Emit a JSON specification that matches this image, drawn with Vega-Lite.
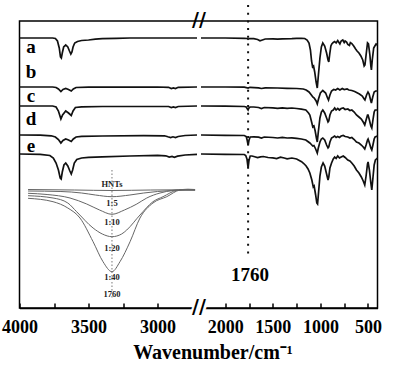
{
  "$schema": "https://vega.github.io/schema/vega-lite/v6.json",
  "autosize": {"type": "none"},
  "padding": {"left": 19.5, "top": 21, "right": 22.5, "bottom": 62},
  "width": 358,
  "height": 287,
  "background": "white",
  "config": {
    "view": {"stroke": "black", "strokeWidth": 1.5},
    "axis": {"grid": false},
    "text": {"font": "Liberation Serif", "fontWeight": "bold", "color": "black"}
  },
  "datasets": {
    "spectra": [
      {"s":"a","p":"L","w":4000,"T":270},{"s":"a","p":"L","w":3850,"T":270},{"s":"a","p":"L","w":3760,"T":270},{"s":"a","p":"L","w":3740,"T":269.5},{"s":"a","p":"L","w":3725,"T":267},{"s":"a","p":"L","w":3712,"T":260},{"s":"a","p":"L","w":3703,"T":251},{"s":"a","p":"L","w":3697,"T":250},{"s":"a","p":"L","w":3690,"T":255},{"s":"a","p":"L","w":3680,"T":261},{"s":"a","p":"L","w":3665,"T":263},{"s":"a","p":"L","w":3650,"T":261},{"s":"a","p":"L","w":3638,"T":257},{"s":"a","p":"L","w":3628,"T":254},{"s":"a","p":"L","w":3620,"T":256},{"s":"a","p":"L","w":3612,"T":261},{"s":"a","p":"L","w":3600,"T":265},{"s":"a","p":"L","w":3580,"T":266.5},{"s":"a","p":"L","w":3550,"T":267.5},{"s":"a","p":"L","w":3500,"T":268},{"s":"a","p":"L","w":3450,"T":268.8},{"s":"a","p":"L","w":3400,"T":269.3},{"s":"a","p":"L","w":3300,"T":269.7},{"s":"a","p":"L","w":3200,"T":270},{"s":"a","p":"L","w":3000,"T":270},{"s":"a","p":"L","w":2714,"T":270},
      {"s":"b","p":"L","w":4000,"T":221},{"s":"b","p":"L","w":3760,"T":221},{"s":"b","p":"L","w":3735,"T":220.5},{"s":"b","p":"L","w":3718,"T":219},{"s":"b","p":"L","w":3700,"T":216.5},{"s":"b","p":"L","w":3685,"T":218.5},{"s":"b","p":"L","w":3665,"T":219.5},{"s":"b","p":"L","w":3645,"T":218.5},{"s":"b","p":"L","w":3625,"T":217},{"s":"b","p":"L","w":3610,"T":219},{"s":"b","p":"L","w":3590,"T":220.5},{"s":"b","p":"L","w":3500,"T":220.8},{"s":"b","p":"L","w":3000,"T":221},{"s":"b","p":"L","w":2920,"T":220.7},{"s":"b","p":"L","w":2900,"T":219.5},{"s":"b","p":"L","w":2885,"T":220},{"s":"b","p":"L","w":2870,"T":219.4},{"s":"b","p":"L","w":2850,"T":220.7},{"s":"b","p":"L","w":2714,"T":221},
      {"s":"c","p":"L","w":4000,"T":202},{"s":"c","p":"L","w":3760,"T":202},{"s":"c","p":"L","w":3735,"T":201},{"s":"c","p":"L","w":3718,"T":197},{"s":"c","p":"L","w":3700,"T":189},{"s":"c","p":"L","w":3688,"T":193},{"s":"c","p":"L","w":3665,"T":197},{"s":"c","p":"L","w":3645,"T":195},{"s":"c","p":"L","w":3625,"T":192.5},{"s":"c","p":"L","w":3612,"T":197},{"s":"c","p":"L","w":3595,"T":200.5},{"s":"c","p":"L","w":3550,"T":201.2},{"s":"c","p":"L","w":3400,"T":201.5},{"s":"c","p":"L","w":3000,"T":201.5},{"s":"c","p":"L","w":2920,"T":201.5},{"s":"c","p":"L","w":2900,"T":200.5},{"s":"c","p":"L","w":2885,"T":201},{"s":"c","p":"L","w":2870,"T":200.4},{"s":"c","p":"L","w":2850,"T":201.5},{"s":"c","p":"L","w":2714,"T":202},
      {"s":"d","p":"L","w":4000,"T":173},{"s":"d","p":"L","w":3850,"T":172.8},{"s":"d","p":"L","w":3770,"T":172.2},{"s":"d","p":"L","w":3740,"T":171},{"s":"d","p":"L","w":3718,"T":168.5},{"s":"d","p":"L","w":3700,"T":165},{"s":"d","p":"L","w":3685,"T":167.5},{"s":"d","p":"L","w":3665,"T":169},{"s":"d","p":"L","w":3645,"T":168},{"s":"d","p":"L","w":3625,"T":166.5},{"s":"d","p":"L","w":3610,"T":169},{"s":"d","p":"L","w":3590,"T":171},{"s":"d","p":"L","w":3550,"T":171.7},{"s":"d","p":"L","w":3400,"T":172},{"s":"d","p":"L","w":3100,"T":172.3},{"s":"d","p":"L","w":2950,"T":172.2},{"s":"d","p":"L","w":2925,"T":171.2},{"s":"d","p":"L","w":2905,"T":170.5},{"s":"d","p":"L","w":2888,"T":171.2},{"s":"d","p":"L","w":2870,"T":170.5},{"s":"d","p":"L","w":2850,"T":171.5},{"s":"d","p":"L","w":2800,"T":172.5},{"s":"d","p":"L","w":2714,"T":173},
      {"s":"e","p":"L","w":4000,"T":154},{"s":"e","p":"L","w":3850,"T":153.7},{"s":"e","p":"L","w":3780,"T":152.5},{"s":"e","p":"L","w":3755,"T":150},{"s":"e","p":"L","w":3735,"T":145},{"s":"e","p":"L","w":3718,"T":138},{"s":"e","p":"L","w":3705,"T":130},{"s":"e","p":"L","w":3698,"T":129},{"s":"e","p":"L","w":3690,"T":136},{"s":"e","p":"L","w":3678,"T":143},{"s":"e","p":"L","w":3665,"T":145},{"s":"e","p":"L","w":3650,"T":142},{"s":"e","p":"L","w":3635,"T":137},{"s":"e","p":"L","w":3625,"T":134},{"s":"e","p":"L","w":3615,"T":138},{"s":"e","p":"L","w":3603,"T":145},{"s":"e","p":"L","w":3585,"T":148.5},{"s":"e","p":"L","w":3550,"T":150},{"s":"e","p":"L","w":3500,"T":150.7},{"s":"e","p":"L","w":3400,"T":151.2},{"s":"e","p":"L","w":3200,"T":152},{"s":"e","p":"L","w":3000,"T":152.7},{"s":"e","p":"L","w":2940,"T":152.2},{"s":"e","p":"L","w":2915,"T":151},{"s":"e","p":"L","w":2895,"T":151.5},{"s":"e","p":"L","w":2878,"T":150.7},{"s":"e","p":"L","w":2855,"T":151.8},{"s":"e","p":"L","w":2800,"T":153},{"s":"e","p":"L","w":2714,"T":153.7},

      {"s":"a","p":"R","w":2255,"T":270},{"s":"a","p":"R","w":2000,"T":270},{"s":"a","p":"R","w":1800,"T":269.7},{"s":"a","p":"R","w":1770,"T":269.5},{"s":"a","p":"R","w":1760,"T":268.7},{"s":"a","p":"R","w":1745,"T":269.4},{"s":"a","p":"R","w":1700,"T":269.3},{"s":"a","p":"R","w":1660,"T":268.5},{"s":"a","p":"R","w":1635,"T":267.2},{"s":"a","p":"R","w":1610,"T":268},{"s":"a","p":"R","w":1580,"T":269},{"s":"a","p":"R","w":1500,"T":269.2},{"s":"a","p":"R","w":1450,"T":268.8},{"s":"a","p":"R","w":1400,"T":269.2},{"s":"a","p":"R","w":1300,"T":269.4},{"s":"a","p":"R","w":1250,"T":269.7},{"s":"a","p":"R","w":1200,"T":269.7},{"s":"a","p":"R","w":1165,"T":269.5},{"s":"a","p":"R","w":1140,"T":268},{"s":"a","p":"R","w":1120,"T":265},{"s":"a","p":"R","w":1105,"T":258},{"s":"a","p":"R","w":1093,"T":247},{"s":"a","p":"R","w":1082,"T":241},{"s":"a","p":"R","w":1072,"T":242},{"s":"a","p":"R","w":1060,"T":236},{"s":"a","p":"R","w":1045,"T":226},{"s":"a","p":"R","w":1033,"T":220},{"s":"a","p":"R","w":1022,"T":232},{"s":"a","p":"R","w":1005,"T":250},{"s":"a","p":"R","w":990,"T":261},{"s":"a","p":"R","w":975,"T":265},{"s":"a","p":"R","w":955,"T":262},{"s":"a","p":"R","w":935,"T":255},{"s":"a","p":"R","w":920,"T":248},{"s":"a","p":"R","w":912,"T":246},{"s":"a","p":"R","w":902,"T":254},{"s":"a","p":"R","w":890,"T":262},{"s":"a","p":"R","w":880,"T":264},{"s":"a","p":"R","w":865,"T":265.5},{"s":"a","p":"R","w":850,"T":266.5},{"s":"a","p":"R","w":835,"T":265},{"s":"a","p":"R","w":818,"T":267.5},{"s":"a","p":"R","w":805,"T":265.5},{"s":"a","p":"R","w":795,"T":264},{"s":"a","p":"R","w":782,"T":267},{"s":"a","p":"R","w":765,"T":268},{"s":"a","p":"R","w":750,"T":265.5},{"s":"a","p":"R","w":740,"T":267},{"s":"a","p":"R","w":725,"T":266},{"s":"a","p":"R","w":712,"T":263.5},{"s":"a","p":"R","w":695,"T":262.5},{"s":"a","p":"R","w":685,"T":265.5},{"s":"a","p":"R","w":670,"T":264.5},{"s":"a","p":"R","w":650,"T":262},{"s":"a","p":"R","w":630,"T":259},{"s":"a","p":"R","w":615,"T":257},{"s":"a","p":"R","w":595,"T":255},{"s":"a","p":"R","w":575,"T":252},{"s":"a","p":"R","w":555,"T":248},{"s":"a","p":"R","w":540,"T":242},{"s":"a","p":"R","w":532,"T":243},{"s":"a","p":"R","w":520,"T":253},{"s":"a","p":"R","w":505,"T":265},{"s":"a","p":"R","w":495,"T":264},{"s":"a","p":"R","w":480,"T":253},{"s":"a","p":"R","w":470,"T":242},{"s":"a","p":"R","w":464,"T":238},{"s":"a","p":"R","w":455,"T":248},{"s":"a","p":"R","w":440,"T":260},{"s":"a","p":"R","w":428,"T":262},{"s":"a","p":"R","w":415,"T":264},{"s":"a","p":"R","w":400,"T":263},

      {"s":"b","p":"R","w":2255,"T":221},{"s":"b","p":"R","w":2000,"T":221},{"s":"b","p":"R","w":1800,"T":220.8},{"s":"b","p":"R","w":1760,"T":220},{"s":"b","p":"R","w":1740,"T":220.7},{"s":"b","p":"R","w":1650,"T":220.2},{"s":"b","p":"R","w":1620,"T":219.5},{"s":"b","p":"R","w":1580,"T":220.2},{"s":"b","p":"R","w":1450,"T":220},{"s":"b","p":"R","w":1350,"T":219.7},{"s":"b","p":"R","w":1250,"T":219.5},{"s":"b","p":"R","w":1180,"T":219},{"s":"b","p":"R","w":1150,"T":218},{"s":"b","p":"R","w":1120,"T":216},{"s":"b","p":"R","w":1095,"T":213},{"s":"b","p":"R","w":1080,"T":211},{"s":"b","p":"R","w":1065,"T":210},{"s":"b","p":"R","w":1045,"T":207},{"s":"b","p":"R","w":1033,"T":204},{"s":"b","p":"R","w":1020,"T":209},{"s":"b","p":"R","w":1000,"T":215},{"s":"b","p":"R","w":975,"T":217.5},{"s":"b","p":"R","w":945,"T":215},{"s":"b","p":"R","w":925,"T":210},{"s":"b","p":"R","w":915,"T":208},{"s":"b","p":"R","w":900,"T":213},{"s":"b","p":"R","w":883,"T":217},{"s":"b","p":"R","w":860,"T":218.5},{"s":"b","p":"R","w":840,"T":218},{"s":"b","p":"R","w":818,"T":219.5},{"s":"b","p":"R","w":795,"T":218},{"s":"b","p":"R","w":770,"T":219.5},{"s":"b","p":"R","w":750,"T":218.5},{"s":"b","p":"R","w":720,"T":219},{"s":"b","p":"R","w":700,"T":218},{"s":"b","p":"R","w":670,"T":217.5},{"s":"b","p":"R","w":640,"T":216.5},{"s":"b","p":"R","w":620,"T":215.5},{"s":"b","p":"R","w":590,"T":214},{"s":"b","p":"R","w":560,"T":212},{"s":"b","p":"R","w":540,"T":209},{"s":"b","p":"R","w":532,"T":208},{"s":"b","p":"R","w":515,"T":213},{"s":"b","p":"R","w":500,"T":216},{"s":"b","p":"R","w":488,"T":214},{"s":"b","p":"R","w":470,"T":207},{"s":"b","p":"R","w":464,"T":205},{"s":"b","p":"R","w":450,"T":211},{"s":"b","p":"R","w":435,"T":216},{"s":"b","p":"R","w":420,"T":217},{"s":"b","p":"R","w":400,"T":217},

      {"s":"c","p":"R","w":2255,"T":202},{"s":"c","p":"R","w":2000,"T":201.8},{"s":"c","p":"R","w":1800,"T":201.5},{"s":"c","p":"R","w":1780,"T":201},{"s":"c","p":"R","w":1767,"T":199},{"s":"c","p":"R","w":1760,"T":198},{"s":"c","p":"R","w":1752,"T":200},{"s":"c","p":"R","w":1740,"T":201},{"s":"c","p":"R","w":1700,"T":201},{"s":"c","p":"R","w":1650,"T":200.5},{"s":"c","p":"R","w":1620,"T":199.5},{"s":"c","p":"R","w":1590,"T":200.5},{"s":"c","p":"R","w":1500,"T":200.2},{"s":"c","p":"R","w":1450,"T":199.7},{"s":"c","p":"R","w":1400,"T":200.2},{"s":"c","p":"R","w":1350,"T":199.7},{"s":"c","p":"R","w":1300,"T":200},{"s":"c","p":"R","w":1250,"T":199.5},{"s":"c","p":"R","w":1200,"T":198.8},{"s":"c","p":"R","w":1153,"T":198},{"s":"c","p":"R","w":1125,"T":195},{"s":"c","p":"R","w":1111,"T":193},{"s":"c","p":"R","w":1095,"T":187},{"s":"c","p":"R","w":1080,"T":181},{"s":"c","p":"R","w":1068,"T":182},{"s":"c","p":"R","w":1055,"T":177},{"s":"c","p":"R","w":1042,"T":170},{"s":"c","p":"R","w":1033,"T":166},{"s":"c","p":"R","w":1022,"T":176},{"s":"c","p":"R","w":1005,"T":190},{"s":"c","p":"R","w":990,"T":196},{"s":"c","p":"R","w":975,"T":198},{"s":"c","p":"R","w":955,"T":195},{"s":"c","p":"R","w":935,"T":190},{"s":"c","p":"R","w":920,"T":186},{"s":"c","p":"R","w":912,"T":187},{"s":"c","p":"R","w":900,"T":193},{"s":"c","p":"R","w":883,"T":197},{"s":"c","p":"R","w":865,"T":198},{"s":"c","p":"R","w":850,"T":200},{"s":"c","p":"R","w":835,"T":198},{"s":"c","p":"R","w":818,"T":199.5},{"s":"c","p":"R","w":800,"T":198},{"s":"c","p":"R","w":782,"T":199.5},{"s":"c","p":"R","w":760,"T":200},{"s":"c","p":"R","w":740,"T":198.5},{"s":"c","p":"R","w":712,"T":199},{"s":"c","p":"R","w":690,"T":197.5},{"s":"c","p":"R","w":670,"T":198},{"s":"c","p":"R","w":645,"T":196},{"s":"c","p":"R","w":621,"T":193},{"s":"c","p":"R","w":595,"T":191},{"s":"c","p":"R","w":570,"T":189},{"s":"c","p":"R","w":550,"T":186},{"s":"c","p":"R","w":534,"T":183},{"s":"c","p":"R","w":520,"T":188},{"s":"c","p":"R","w":505,"T":193},{"s":"c","p":"R","w":499,"T":193},{"s":"c","p":"R","w":485,"T":188},{"s":"c","p":"R","w":470,"T":182},{"s":"c","p":"R","w":460,"T":180},{"s":"c","p":"R","w":448,"T":188},{"s":"c","p":"R","w":435,"T":196},{"s":"c","p":"R","w":425,"T":198},{"s":"c","p":"R","w":400,"T":198},

      {"s":"d","p":"R","w":2255,"T":173},{"s":"d","p":"R","w":2000,"T":172.7},{"s":"d","p":"R","w":1800,"T":172.5},{"s":"d","p":"R","w":1780,"T":171.5},{"s":"d","p":"R","w":1770,"T":168},{"s":"d","p":"R","w":1760,"T":163},{"s":"d","p":"R","w":1750,"T":168},{"s":"d","p":"R","w":1738,"T":171},{"s":"d","p":"R","w":1700,"T":171.2},{"s":"d","p":"R","w":1650,"T":170.8},{"s":"d","p":"R","w":1620,"T":170},{"s":"d","p":"R","w":1590,"T":171},{"s":"d","p":"R","w":1500,"T":170.5},{"s":"d","p":"R","w":1450,"T":170},{"s":"d","p":"R","w":1400,"T":170.7},{"s":"d","p":"R","w":1350,"T":170},{"s":"d","p":"R","w":1300,"T":170.2},{"s":"d","p":"R","w":1250,"T":169.7},{"s":"d","p":"R","w":1200,"T":169},{"s":"d","p":"R","w":1153,"T":168},{"s":"d","p":"R","w":1125,"T":166},{"s":"d","p":"R","w":1111,"T":165},{"s":"d","p":"R","w":1095,"T":163.5},{"s":"d","p":"R","w":1080,"T":162},{"s":"d","p":"R","w":1068,"T":162.5},{"s":"d","p":"R","w":1050,"T":159},{"s":"d","p":"R","w":1033,"T":155},{"s":"d","p":"R","w":1022,"T":160},{"s":"d","p":"R","w":1005,"T":166},{"s":"d","p":"R","w":990,"T":169},{"s":"d","p":"R","w":975,"T":170},{"s":"d","p":"R","w":955,"T":168},{"s":"d","p":"R","w":935,"T":163},{"s":"d","p":"R","w":920,"T":160},{"s":"d","p":"R","w":912,"T":161},{"s":"d","p":"R","w":900,"T":166},{"s":"d","p":"R","w":883,"T":170},{"s":"d","p":"R","w":865,"T":171},{"s":"d","p":"R","w":850,"T":172},{"s":"d","p":"R","w":835,"T":170.5},{"s":"d","p":"R","w":818,"T":171.5},{"s":"d","p":"R","w":800,"T":170.5},{"s":"d","p":"R","w":782,"T":172},{"s":"d","p":"R","w":760,"T":172.5},{"s":"d","p":"R","w":740,"T":171.5},{"s":"d","p":"R","w":712,"T":171},{"s":"d","p":"R","w":690,"T":170},{"s":"d","p":"R","w":670,"T":170.5},{"s":"d","p":"R","w":645,"T":168.5},{"s":"d","p":"R","w":621,"T":166},{"s":"d","p":"R","w":595,"T":165},{"s":"d","p":"R","w":570,"T":163},{"s":"d","p":"R","w":550,"T":161},{"s":"d","p":"R","w":534,"T":159},{"s":"d","p":"R","w":520,"T":163},{"s":"d","p":"R","w":505,"T":168},{"s":"d","p":"R","w":499,"T":169},{"s":"d","p":"R","w":485,"T":165},{"s":"d","p":"R","w":470,"T":160},{"s":"d","p":"R","w":460,"T":158},{"s":"d","p":"R","w":448,"T":163},{"s":"d","p":"R","w":435,"T":169},{"s":"d","p":"R","w":425,"T":171},{"s":"d","p":"R","w":400,"T":172},

      {"s":"e","p":"R","w":2255,"T":154},{"s":"e","p":"R","w":2000,"T":153.7},{"s":"e","p":"R","w":1800,"T":153.5},{"s":"e","p":"R","w":1785,"T":152.5},{"s":"e","p":"R","w":1772,"T":149},{"s":"e","p":"R","w":1760,"T":140},{"s":"e","p":"R","w":1750,"T":148},{"s":"e","p":"R","w":1738,"T":152},{"s":"e","p":"R","w":1720,"T":152},{"s":"e","p":"R","w":1700,"T":151.5},{"s":"e","p":"R","w":1660,"T":150.5},{"s":"e","p":"R","w":1630,"T":151.2},{"s":"e","p":"R","w":1600,"T":151.5},{"s":"e","p":"R","w":1550,"T":150.5},{"s":"e","p":"R","w":1500,"T":150.2},{"s":"e","p":"R","w":1460,"T":149.5},{"s":"e","p":"R","w":1420,"T":150.8},{"s":"e","p":"R","w":1380,"T":150},{"s":"e","p":"R","w":1350,"T":149.2},{"s":"e","p":"R","w":1300,"T":150},{"s":"e","p":"R","w":1250,"T":149},{"s":"e","p":"R","w":1198,"T":146.3},{"s":"e","p":"R","w":1175,"T":144.5},{"s":"e","p":"R","w":1150,"T":142},{"s":"e","p":"R","w":1130,"T":139},{"s":"e","p":"R","w":1111,"T":135},{"s":"e","p":"R","w":1090,"T":128},{"s":"e","p":"R","w":1075,"T":121},{"s":"e","p":"R","w":1066,"T":122},{"s":"e","p":"R","w":1050,"T":113},{"s":"e","p":"R","w":1038,"T":105},{"s":"e","p":"R","w":1030,"T":104},{"s":"e","p":"R","w":1020,"T":115},{"s":"e","p":"R","w":1005,"T":132},{"s":"e","p":"R","w":990,"T":141},{"s":"e","p":"R","w":972,"T":145},{"s":"e","p":"R","w":955,"T":142},{"s":"e","p":"R","w":935,"T":134},{"s":"e","p":"R","w":920,"T":128},{"s":"e","p":"R","w":912,"T":131},{"s":"e","p":"R","w":900,"T":140},{"s":"e","p":"R","w":883,"T":145},{"s":"e","p":"R","w":865,"T":149},{"s":"e","p":"R","w":850,"T":151},{"s":"e","p":"R","w":835,"T":149.5},{"s":"e","p":"R","w":818,"T":152},{"s":"e","p":"R","w":800,"T":150},{"s":"e","p":"R","w":782,"T":151},{"s":"e","p":"R","w":760,"T":152},{"s":"e","p":"R","w":740,"T":150.5},{"s":"e","p":"R","w":712,"T":148},{"s":"e","p":"R","w":690,"T":147},{"s":"e","p":"R","w":670,"T":145},{"s":"e","p":"R","w":645,"T":142},{"s":"e","p":"R","w":621,"T":138},{"s":"e","p":"R","w":595,"T":135},{"s":"e","p":"R","w":570,"T":131},{"s":"e","p":"R","w":550,"T":127},{"s":"e","p":"R","w":534,"T":123},{"s":"e","p":"R","w":520,"T":132},{"s":"e","p":"R","w":505,"T":144},{"s":"e","p":"R","w":499,"T":146},{"s":"e","p":"R","w":485,"T":138},{"s":"e","p":"R","w":470,"T":125},{"s":"e","p":"R","w":460,"T":118},{"s":"e","p":"R","w":448,"T":130},{"s":"e","p":"R","w":435,"T":143},{"s":"e","p":"R","w":422,"T":148},{"s":"e","p":"R","w":400,"T":150}
    ],
    "inset": [
      {"r":"HNTs","w":3938,"T":118.5},{"r":"HNTs","w":3600,"T":118},{"r":"HNTs","w":3330,"T":117.5},{"r":"HNTs","w":3050,"T":118},{"r":"HNTs","w":2850,"T":118.2},{"r":"HNTs","w":2780,"T":118.8},{"r":"HNTs","w":2728,"T":118.5},
      {"r":"1:5","w":3938,"T":117},{"r":"1:5","w":3700,"T":116.5},{"r":"1:5","w":3550,"T":115},{"r":"1:5","w":3450,"T":113},{"r":"1:5","w":3330,"T":111.3},{"r":"1:5","w":3200,"T":113},{"r":"1:5","w":3100,"T":115},{"r":"1:5","w":3000,"T":116.5},{"r":"1:5","w":2900,"T":117.5},{"r":"1:5","w":2850,"T":118},{"r":"1:5","w":2728,"T":118},
      {"r":"1:10","w":3938,"T":114.7},{"r":"1:10","w":3800,"T":113.5},{"r":"1:10","w":3634,"T":110},{"r":"1:10","w":3513,"T":104},{"r":"1:10","w":3420,"T":98},{"r":"1:10","w":3330,"T":93.7},{"r":"1:10","w":3240,"T":98},{"r":"1:10","w":3150,"T":104},{"r":"1:10","w":3078,"T":110},{"r":"1:10","w":2982,"T":115},{"r":"1:10","w":2888,"T":117.5},{"r":"1:10","w":2830,"T":118},{"r":"1:10","w":2728,"T":118},
      {"r":"1:20","w":3938,"T":112.3},{"r":"1:20","w":3757,"T":110},{"r":"1:20","w":3650,"T":105},{"r":"1:20","w":3586,"T":96.3},{"r":"1:20","w":3467,"T":80},{"r":"1:20","w":3400,"T":74},{"r":"1:20","w":3330,"T":71.3},{"r":"1:20","w":3260,"T":74},{"r":"1:20","w":3223,"T":78},{"r":"1:20","w":3127,"T":93},{"r":"1:20","w":3033,"T":106.3},{"r":"1:20","w":2960,"T":111.3},{"r":"1:20","w":2861,"T":117.5},{"r":"1:20","w":2800,"T":118},{"r":"1:20","w":2728,"T":118},
      {"r":"1:40","w":3938,"T":109.7},{"r":"1:40","w":3757,"T":106.3},{"r":"1:40","w":3650,"T":100},{"r":"1:40","w":3562,"T":90},{"r":"1:40","w":3467,"T":66.3},{"r":"1:40","w":3395,"T":46.3},{"r":"1:40","w":3330,"T":36.3},{"r":"1:40","w":3272,"T":46.3},{"r":"1:40","w":3199,"T":66.3},{"r":"1:40","w":3127,"T":90},{"r":"1:40","w":3033,"T":105},{"r":"1:40","w":2933,"T":111.3},{"r":"1:40","w":2837,"T":118},{"r":"1:40","w":2780,"T":118.5},{"r":"1:40","w":2728,"T":118}
    ],
    "insetLabels": [
      {"t":"HNTs","w":3330,"T":123.7},{"t":"1:5","w":3330,"T":104.7},{"t":"1:10","w":3330,"T":86.3},{"t":"1:20","w":3330,"T":60.3},{"t":"1:40","w":3330,"T":31.3},{"t":"1760","w":3330,"T":13.7}
    ],
    "traceLabels": [
      {"t":"a","w":3917,"T":261},{"t":"b","w":3917,"T":236},{"t":"c","w":3917,"T":212},{"t":"d","w":3917,"T":189},{"t":"e","w":3917,"T":162}
    ],
    "markers": [
      {"k":"main","w":1760,"T":303,"T2":53},
      {"k":"inset","w":3330,"T":138,"T2":10}
    ],
    "notes": [
      {"t":"1760","w":1760,"T":33}
    ],
    "breaks": [
      {"t":"//","w":2485,"T":0},
      {"t":"//","w":2485,"T":287}
    ]
  },
  "encoding": {
    "x": {
      "field": "w", "type": "quantitative",
      "scale": {"domain": [4000, 2714, 2255, 400], "range": [0, 177.5, 181.5, 358], "nice": false, "zero": false},
      "axis": {
        "title": "Wavenumber/cm⁻¹",
        "values": [4000, 3750, 3500, 3250, 3000, 2000, 1750, 1500, 1250, 1000, 750, 500],
        "labelExpr": "datum.value % 500 === 0 ? format(datum.value, 'd') : ''",
        "labelFont": "Liberation Serif", "labelFontWeight": "bold", "labelFontSize": 18, "labelColor": "black",
        "labelOverlap": false, "labelFlush": false,
        "tickSize": -5, "tickColor": "black", "tickWidth": 1.5, "labelPadding": 15,
        "domainColor": "black", "domainWidth": 1.5,
        "titleFont": "Liberation Serif", "titleFontWeight": "bold", "titleFontSize": 20, "titleColor": "black",
        "titlePadding": 6, "titleX": 193
      }
    },
    "y": {
      "field": "T", "type": "quantitative",
      "scale": {"domain": [0, 287], "nice": false, "zero": false},
      "axis": null
    }
  },
  "layer": [
    {
      "data": {"name": "inset"},
      "mark": {"type": "line", "interpolate": "monotone", "stroke": "#666666", "strokeWidth": 1},
      "encoding": {"detail": {"field": "r"}}
    },
    {
      "data": {"name": "insetLabels"},
      "mark": {"type": "text", "fontSize": 8.5, "fill": "#222222", "baseline": "middle"},
      "encoding": {"text": {"field": "t"}}
    },
    {
      "data": {"name": "markers"},
      "transform": [{"filter": "datum.k === 'inset'"}],
      "mark": {"type": "rule", "stroke": "#777777", "strokeWidth": 1, "strokeDash": [1.5, 2]},
      "encoding": {"y2": {"field": "T2"}}
    },
    {
      "data": {"name": "spectra"},
      "mark": {"type": "line", "stroke": "#111111", "strokeWidth": 1.7},
      "encoding": {"detail": [{"field": "s"}, {"field": "p"}]}
    },
    {
      "data": {"name": "traceLabels"},
      "mark": {"type": "text", "fontSize": 19, "baseline": "middle", "align": "center"},
      "encoding": {"text": {"field": "t"}}
    },
    {
      "data": {"name": "markers"},
      "transform": [{"filter": "datum.k === 'main'"}],
      "mark": {"type": "rule", "stroke": "#111111", "strokeWidth": 2, "strokeDash": [2, 5.7]},
      "encoding": {"y2": {"field": "T2"}}
    },
    {
      "data": {"name": "notes"},
      "mark": {"type": "text", "fontSize": 19, "baseline": "middle", "align": "center", "dx": 2},
      "encoding": {"text": {"field": "t"}}
    },
    {
      "data": {"name": "breaks"},
      "transform": [{"filter": "datum.T === 0"}],
      "mark": {"type": "text", "fontSize": 19, "font": "DejaVu Sans", "baseline": "middle", "align": "center", "stroke": "white", "strokeWidth": 5, "fill": "white"},
      "encoding": {"text": {"field": "t"}}
    },
    {
      "data": {"name": "breaks"},
      "mark": {"type": "text", "fontSize": 19, "font": "DejaVu Sans", "baseline": "middle", "align": "center", "dy": -1},
      "encoding": {"text": {"field": "t"}}
    }
  ]
}
